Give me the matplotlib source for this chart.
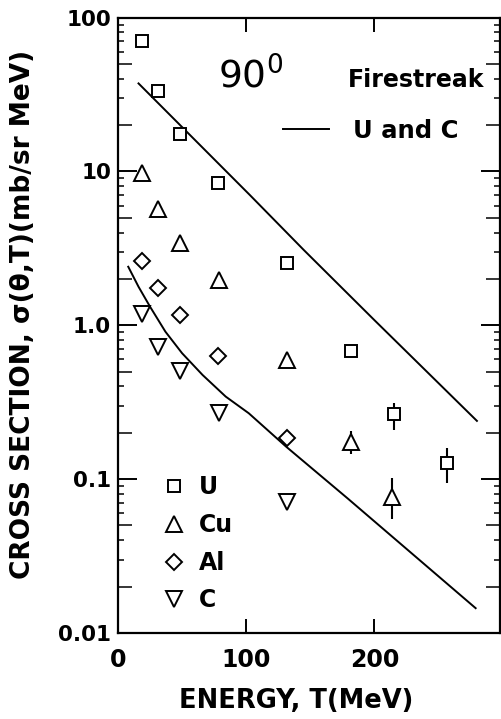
import matplotlib
matplotlib.use('Agg')
import matplotlib.pyplot as plt
import numpy as np
from matplotlib.ticker import LogLocator, FixedLocator, NullFormatter, FixedFormatter
from matplotlib.lines import Line2D

# measured invariant cross sections at 90 degrees (mb/sr MeV)
T_u = [19, 31, 48, 78, 132, 182, 215, 257]
sig_u = [70.7, 33.4, 17.5, 8.37, 2.53, 0.68, 0.264, 0.127]
T_cu = [19, 31, 48, 79, 132, 182, 214]
sig_cu = [9.8, 5.68, 3.44, 1.97, 0.596, 0.175, 0.0769]
T_al = [19, 31, 48, 78, 132]
sig_al = [2.62, 1.74, 1.17, 0.631, 0.186]
T_c = [19, 31, 48, 79, 132]
sig_c = [1.18, 0.726, 0.507, 0.268, 0.0715]

# error bar ends (upper, lower) for the high energy points
T_err = [215, 257, 182, 214]
err_hi = [0.311, 0.159, 0.204, 0.101]
err_lo = [0.209, 0.094, 0.146, 0.0548]
err_mid = [0.264, 0.127, 0.175, 0.0769]

# firestreak model curves for U and C
T_fs_u = [16, 103, 145, 200, 280]
sig_fs_u = [37.3, 7.0, 3.08, 1.08, 0.239]
T_fs_c = [8, 16, 25, 37, 50, 66, 84, 102, 131, 179, 279]
sig_fs_c = [2.40, 1.78, 1.32, 0.908, 0.658, 0.475, 0.344, 0.268, 0.163, 0.0751, 0.0145]

plt.rcParams['font.family'] = 'DejaVu Sans'

fig = plt.figure(figsize=(5.02, 7.19), dpi=100)
ax = fig.add_axes([118/502, 1 - 633/719, (500 - 118)/502, (633 - 17.5)/719])

ax.plot(T_fs_u, sig_fs_u, color='black', lw=1.4)
ax.plot(T_fs_c, sig_fs_c, color='black', lw=1.4)

lo = np.array(err_mid) - np.array(err_lo)
hi = np.array(err_hi) - np.array(err_mid)
ax.errorbar(T_err, err_mid, yerr=[lo, hi], fmt='none', ecolor='black', elinewidth=1.5, capsize=0)

mk = dict(linestyle='none', markerfacecolor='white', markeredgecolor='black', markeredgewidth=1.4, zorder=5)
ax.plot(T_u, sig_u, marker='s', markersize=8.5, label='U', **mk)
ax.plot(T_cu, sig_cu, marker='^', markersize=11, label='Cu', **mk)
ax.plot(T_al, sig_al, marker='D', markersize=8.3, label='Al', **mk)
ax.plot(T_c, sig_c, marker='v', markersize=11, label='C', **mk)

ax.set_yscale('log')
ax.set_xlim(0, 298)
ax.set_ylim(0.01, 100)

ax.xaxis.set_major_locator(FixedLocator([0, 100, 200]))
ax.set_xticklabels(['0', '100', '200'], fontweight='bold')
ax.yaxis.set_major_locator(FixedLocator([0.01, 0.1, 1, 10, 100]))
ax.yaxis.set_major_formatter(FixedFormatter(['0.01', '0.1', '1.0', '10', '100']))
ax.yaxis.set_minor_locator(LogLocator(base=10, subs=np.arange(2, 10), numticks=20))
ax.yaxis.set_minor_formatter(NullFormatter())

ax.tick_params(axis='both', which='both', direction='in', top=True, right=True, color='black')
ax.tick_params(axis='y', which='major', length=14, width=1.4, labelsize=15.5, pad=5)
ax.tick_params(axis='y', which='minor', length=4.5, width=1.1)
ax.tick_params(axis='x', which='major', length=10, width=1.4, labelsize=17, pad=11)
for lbl in ax.get_yticklabels():
    lbl.set_fontweight('bold')

for s in ax.spines.values():
    s.set_linewidth(1.6)

ax.set_xlabel('ENERGY, T(MeV)', fontsize=18.5, fontweight='bold')
ax.xaxis.set_label_coords(0.466, -0.090)
ax.set_ylabel('CROSS SECTION, σ(θ,T)(mb/sr MeV)', fontsize=19, fontweight='bold')
ax.yaxis.set_label_coords(-0.215, 0.517)

ax.text(0.262, 0.885, r'$\mathregular{90^0}$', transform=ax.transAxes, fontsize=27,
        ha='left', va='baseline')
ax.text(0.602, 0.898, 'Firestreak', transform=ax.transAxes, fontsize=17,
        fontweight='bold', ha='left', va='center')

leg1 = ax.legend(loc='lower left', bbox_to_anchor=(0.09, 0.018), frameon=False,
                 prop={'size': 17, 'weight': 'bold'}, handlelength=1.0, handletextpad=0.55,
                 labelspacing=0.58, borderaxespad=0)
ax.add_artist(leg1)
line_h = Line2D([], [], color='black', lw=1.4)
ax.legend([line_h], ['U and C'], loc='center right', bbox_to_anchor=(0.917, 0.8156),
          frameon=False, prop={'size': 17.5, 'weight': 'bold'}, handlelength=1.9,
          handletextpad=1.0, borderaxespad=0)

fig.canvas.draw()
for tick in ax.yaxis.get_minor_ticks():
    loc = tick.get_loc()
    if loc <= 0:
        continue
    m = loc / 10 ** np.floor(np.log10(loc) + 1e-9)
    if round(m) in (2, 5):
        tick.tick1line.set_markersize(10)
        tick.tick2line.set_markersize(10)

fig.savefig('out.png', dpi=100)
